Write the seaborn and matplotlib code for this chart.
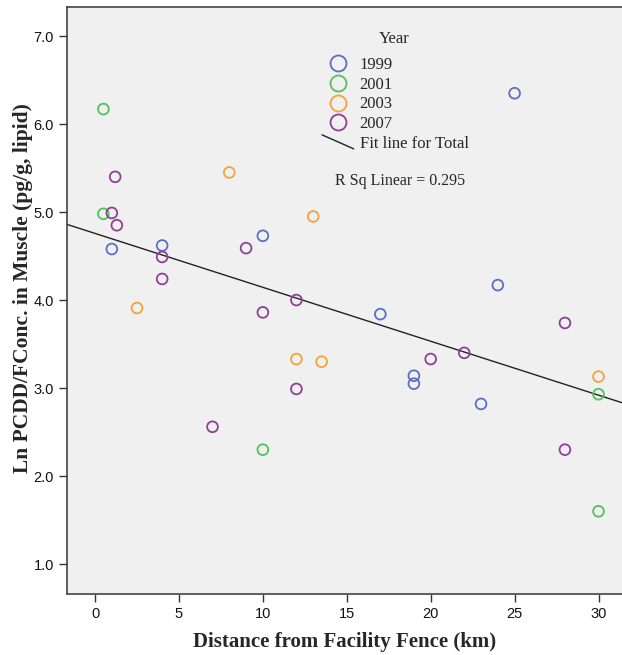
import numpy as np
import pandas as pd
import matplotlib
matplotlib.use("Agg")
import matplotlib.pyplot as plt
import seaborn as sns
from matplotlib.lines import Line2D
from matplotlib.legend_handler import HandlerLine2D

# Sampling sites: distance from fence (km) and ln PCDD/F concentration
years = ["1999", "2001", "2003", "2007"]
dist_1999 = [1.0, 4.0, 10.0, 25.0, 17.0, 19.0, 19.0, 23.0, 24.0]
conc_1999 = [4.58, 4.62, 4.73, 6.35, 3.84, 3.14, 3.05, 2.82, 4.17]
dist_2001 = [0.5, 0.5, 10.0, 30.0, 30.0]
conc_2001 = [6.17, 4.98, 2.30, 2.93, 1.60]
dist_2003 = [8.0, 13.0, 2.5, 12.0, 13.5, 30.0]
conc_2003 = [5.45, 4.95, 3.91, 3.33, 3.30, 3.13]
dist_2007 = [1.2, 1.0, 1.3, 4.0, 4.0, 9.0, 10.0, 12.0, 12.0, 7.0, 20.0, 22.0, 28.0, 28.0]
conc_2007 = [5.40, 4.99, 4.85, 4.49, 4.24, 4.59, 3.86, 4.00, 2.99, 2.56, 3.33, 3.40, 3.74, 2.30]
r_sq_label = "R Sq Linear = 0.295"

colors = {"1999": "#5b70c4", "2001": "#52c25c", "2003": "#f6a23a", "2007": "#8f3f96"}

df = pd.concat([
    pd.DataFrame({"dist": d, "conc": c, "year": y})
    for y, d, c in zip(years,
                       [dist_1999, dist_2001, dist_2003, dist_2007],
                       [conc_1999, conc_2001, conc_2003, conc_2007])
], ignore_index=True)

sns.set_style("white")
serif = ["Liberation Serif", "DejaVu Serif"]
tickfont = ["Liberation Sans Narrow", "Liberation Sans", "DejaVu Sans"]

W, H = 622, 655
L, T, R, B = 67, 7, 622, 594
fig = plt.figure(figsize=(W / 100, H / 100), dpi=100)
ax = fig.add_axes([L / W, 1 - B / H, (R - L) / W, (B - T) / H])
ax.set_facecolor("#f0f0f0")


def ax_x(px):
    return (px - L) / (R - L)


def ax_y(py):
    return (B - py) / (B - T)


XLIM = (-1.67, 31.4)
YLIM = (0.66, 7.33)
ax.set_xlim(*XLIM)
ax.set_ylim(*YLIM)

# Overall linear fit spanning the full axis width
sns.regplot(data=df, x="dist", y="conc", scatter=False, ci=None, truncate=False,
            line_kws={"color": "#222222", "lw": 1.0}, ax=ax)

# Open circles per sampling year
for y in years:
    sub = df[df["year"] == y]
    sns.scatterplot(data=sub, x="dist", y="conc", marker="o", s=60,
                    facecolors="none", edgecolor=colors[y], linewidth=1.3,
                    legend=False, ax=ax, zorder=3)

ax.set_xlim(*XLIM)
ax.set_ylim(*YLIM)
ax.set_xticks([0, 5, 10, 15, 20, 25, 30])
ax.set_yticks([1, 2, 3, 4, 5, 6, 7])
ax.set_yticklabels([f"{v:.1f}" for v in [1, 2, 3, 4, 5, 6, 7]])

for s in ["left", "bottom", "top"]:
    ax.spines[s].set_visible(True)
    ax.spines[s].set_color("#444444")
    ax.spines[s].set_linewidth(1.2)
ax.spines["right"].set_visible(False)
ax.tick_params(axis="both", direction="out", length=6, width=1.0, color="#333333",
               labelsize=10.5, labelcolor="#111111", bottom=True, left=True)
for lab in ax.get_xticklabels() + ax.get_yticklabels():
    lab.set_family(tickfont)

ax.set_xlabel("Distance from Facility Fence (km)", fontsize=15, fontweight="bold",
              family=serif, labelpad=8)
ax.set_ylabel("Ln PCDD/FConc. in Muscle (pg/g, lipid)", fontsize=15.5, fontweight="bold",
              family=serif)
ax.yaxis.set_label_coords(ax_x(33), ax_y(288))


class SlantHandler(HandlerLine2D):
    def create_artists(self, legend, orig_handle, xdescent, ydescent, width, height,
                       fontsize, trans):
        line = Line2D([0, width], [height * 1.1, height * -0.1],
                      color=orig_handle.get_color(), lw=orig_handle.get_linewidth(),
                      transform=trans)
        return [line]


handles = [Line2D([], [], ls="none", marker="o", markersize=11.5, markerfacecolor="none",
                  markeredgecolor=colors[y], markeredgewidth=1.3) for y in years]
fit_handle = Line2D([], [], color="#222222", lw=1.0)
handles.append(fit_handle)
labels = years + ["Fit line for Total"]
leg = ax.legend(handles, labels, loc="upper left",
                bbox_to_anchor=(ax_x(322), ax_y(57)),
                frameon=False, borderpad=0, borderaxespad=0,
                prop={"family": serif, "size": 12},
                handlelength=1.9, handletextpad=0.35, labelspacing=0.22,
                handler_map={fit_handle: SlantHandler()})
ax.text(ax_x(394), ax_y(39), "Year", transform=ax.transAxes, fontsize=12,
        family=serif, ha="center", va="center")

ax.text(ax_x(335), ax_y(181), r_sq_label, transform=ax.transAxes,
        fontsize=11.5, family=serif, ha="left", va="center")

fig.savefig("out.png", dpi=100, facecolor="white")
